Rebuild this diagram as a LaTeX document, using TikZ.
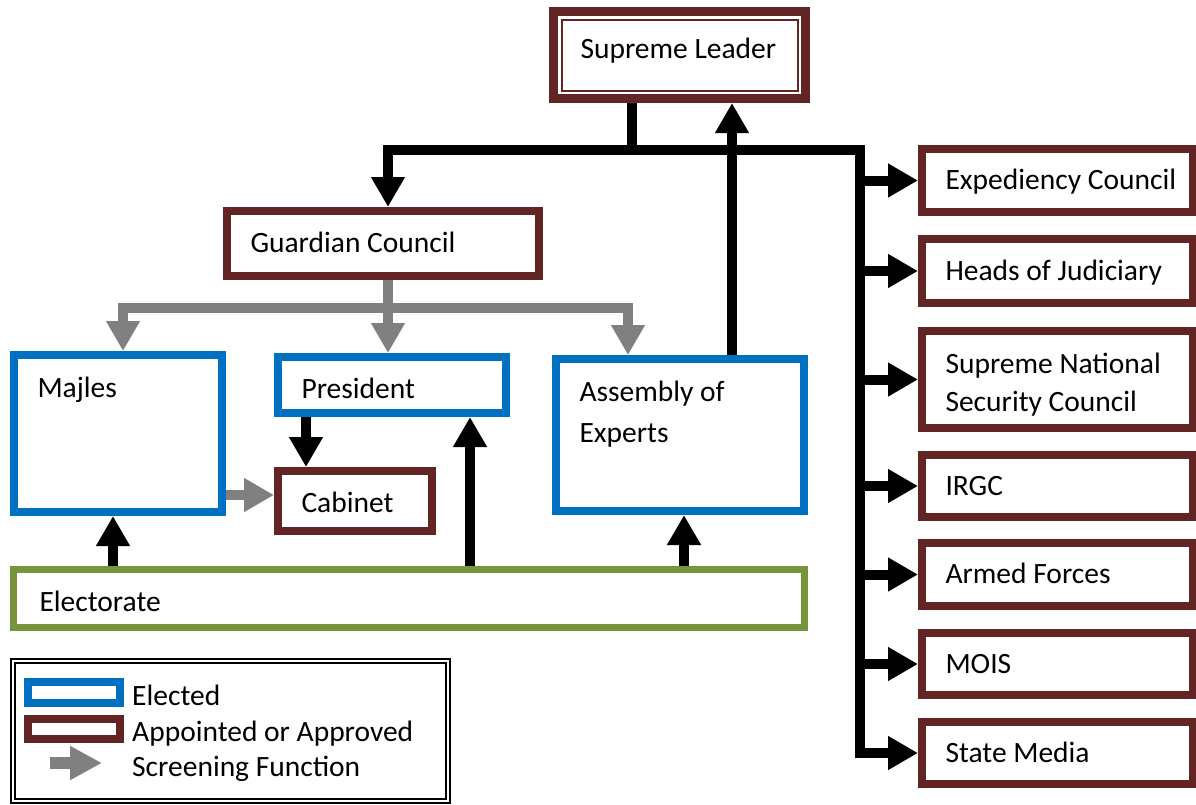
\documentclass[tikz,border=0pt]{standalone}
\usepackage{fontspec}
\setmainfont{Carlito}
\usetikzlibrary{arrows.meta}

\definecolor{electblue}{HTML}{0070C0}
\definecolor{apptbrown}{HTML}{632523}
\definecolor{votegreen}{HTML}{77933C}
\definecolor{screengray}{HTML}{808080}

\tikzset{
  orgbox/.style={draw, rectangle, line width=8pt, inner xsep=23.5pt, inner ysep=0pt,
    align=flush left, text height=24pt, text depth=5.3pt},
  elected/.style={orgbox, draw=electblue},
  appointed/.style={orgbox, draw=apptbrown},
  bar/.style={line width=10pt},
  ctrl/.style={bar, -{Triangle[length=30pt,width=32pt]}},
  screenbar/.style={bar, draw=screengray},
  screen/.style={ctrl, draw=screengray},
  swatch/.style={draw, rectangle, line width=8pt, inner sep=0pt, minimum width=92pt, minimum height=21pt},
}

\begin{document}
\begin{tikzpicture}[x=1pt, y=-1pt, font=\fontsize{29.5pt}{38pt}\selectfont]
  \useasboundingbox (0,0) rectangle (1196,804);

  % leadership
  \node[appointed, line width=9pt, inner xsep=27pt, text width=198pt, minimum height=87pt, text depth=18pt] (sl) at (679.5,55) {\mbox{Supreme Leader}};
  \draw[apptbrown, line width=2pt] ([shift={(12.5,12.5)}]sl.north west) rectangle ([shift={(-12.5,-12.5)}]sl.south east);
  \node[appointed, text width=265pt, minimum height=65pt, text height=22.3pt] (gc) at (383,243.5) {Guardian Council};

  % elected bodies
  \node[elected, text width=161pt, minimum height=157pt, text depth=97pt] (majles) at (118,433.5) {Majles};
  \node[elected, text width=181pt, minimum height=56pt, text height=33pt] (pres) at (392,385) {President};
  \node[appointed, text width=107pt, minimum height=60pt, text height=27.3pt] (cab) at (355,501) {Cabinet};
  \node[elected, text width=201pt, minimum height=152pt, text depth=92pt] (asm) at (680,435) {Assembly of\\[3pt]Experts};
  \node[orgbox, draw=votegreen, line width=7pt, inner xsep=26pt, text width=739pt, minimum height=58pt, text height=30.3pt] (elect) at (409,598.5) {Electorate};

  % bodies under the leader
  \node[appointed, text width=224pt, minimum height=63pt] (ec) at (1057.5,180.5) {\mbox{Expediency Council}};
  \node[appointed, text width=224pt, minimum height=64pt] (hj) at (1057.5,271) {Heads of Judiciary};
  \node[appointed, text width=224pt, minimum height=97pt, text depth=37pt] (snsc) at (1057.5,379.5) {Supreme National\\Security Council};
  \node[appointed, text width=224pt, minimum height=62pt] (irgc) at (1057.5,486) {IRGC};
  \node[appointed, text width=224pt, minimum height=63pt] (af) at (1057.5,574.5) {Armed Forces};
  \node[appointed, text width=224pt, minimum height=62pt] (mois) at (1057.5,664) {MOIS};
  \node[appointed, text width=224pt, minimum height=62pt] (sm) at (1057.5,753) {State Media};

  \coordinate (slstem) at (632,150);
  \coordinate (gcdrop) at (388,150);
  \coordinate (bus) at (860,150);
  \coordinate (busend) at (860,758);
  \coordinate (screenjoin) at (388,308);
  \coordinate (tomaj) at (123,308);
  \coordinate (toasm) at (628,308);

  % appointments from the top
  \draw[bar] (sl.south -| slstem) -- (slstem);
  \draw[ctrl] (slstem) -- (gcdrop) -- (gc.north -| gcdrop);
  \draw[bar] (slstem) -- (bus) -- (busend);
  \foreach \b in {ec,hj,snsc,irgc,af,mois,sm}
    \draw[ctrl] (bus |- \b.west) -- (\b.west);
  \draw[ctrl] (asm.north -| 732,0) -- (sl.south -| 732,0);

  % screening
  \draw[screenbar] (gc.south -| screenjoin) -- (screenjoin);
  \draw[screen] (screenjoin) -- (tomaj) -- (majles.north -| tomaj);
  \draw[screen] (screenjoin) -- (toasm) -- (asm.north -| toasm);
  \draw[screen] (screenjoin) -- (pres.north -| screenjoin);
  \draw[screen] (majles.east |- 0,495) -- (cab.west |- 0,495);

  % votes
  \draw[ctrl] (pres.south -| 306,0) -- (cab.north -| 306,0);
  \draw[ctrl] (elect.north -| 113,0) -- (majles.south -| 113,0);
  \draw[ctrl] (elect.north -| 470,0) -- (pres.south -| 470,0);
  \draw[ctrl] (elect.north -| 684,0) -- (asm.south -| 684,0);

  % legend
  \node[draw, double, line width=2pt, double distance=2pt, inner sep=0pt, minimum width=435pt, minimum height=140pt] (key) at (230.5,731) {};
  \node[swatch, draw=electblue] (keyel) at (74,692.5) {};
  \node[swatch, draw=apptbrown, minimum height=20pt] (keyap) at (74,729) {};
  \coordinate (keyfrom) at (50,763);
  \coordinate (keyto) at (102,763);
  \draw[screen, line width=12pt, -{Triangle[length=32pt,width=32pt]}] (keyfrom) -- (keyto);
  \node[anchor=base west, inner sep=0pt] (keyeltext) at (132,705) {Elected};
  \node[anchor=base west, inner sep=0pt] (keyaptext) at (132,741) {Appointed or Approved};
  \node[anchor=base west, inner sep=0pt] (keysctext) at (132,776) {Screening Function};
\end{tikzpicture}
\end{document}
